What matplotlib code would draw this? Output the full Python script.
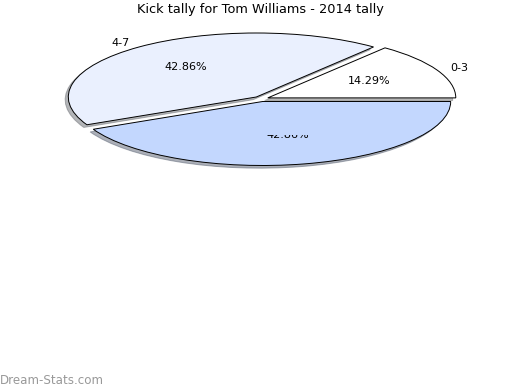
import matplotlib
matplotlib.use("Agg")
import matplotlib.pyplot as plt
from matplotlib.transforms import Bbox

labels = ["0-3", "4-7", ""]
values = [1, 3, 3]
colors = ["#ffffff", "#eaf0fe", "#c3d7fe"]

fig = plt.figure(figsize=(5.2, 3.9), dpi=100)

# pie squashed into an ellipse: centre (261, 99) px, radii 188 x 64 px
cx, cy, rx, ry = 261, 99, 188, 64
ax = fig.add_axes([(cx - 2 * rx) / 520, (390 - cy - 2 * ry) / 390,
                   4 * rx / 520, 4 * ry / 390])
ax.axis("off")

wedges, texts, autotexts = ax.pie(
    values, labels=labels, colors=colors, startangle=0,
    explode=[0.04, 0.04, 0.04],
    shadow={"ox": -0.012, "oy": -0.03, "shade": 0.55},
    autopct="%.2f%%", pctdistance=0.6, labeldistance=1.08,
    wedgeprops=dict(edgecolor="black", linewidth=0.7),
    textprops=dict(fontsize=8), frame=False)
ax.set_xlim(-2, 2)
ax.set_ylim(-2, 2)
ax.set_aspect("auto")

# the last percentage is mostly hidden in the original
x3, y3 = autotexts[2].get_position()
autotexts[2].set_position((x3, -0.56))
autotexts[2].set_clip_on(True)
autotexts[2].set_clip_box(Bbox.from_extents(0, 0, 520, 390 - 134.5))

fig.text(0.5, 1 - 10 / 390, "Kick tally for Tom Williams - 2014 tally",
         ha="center", va="center", fontsize=9.3)
fig.text(0.0, 1 - 380 / 390, "Dream-Stats.com", ha="left", va="center",
         fontsize=8.6, color="#999999")

fig.savefig("out.png", dpi=100)
